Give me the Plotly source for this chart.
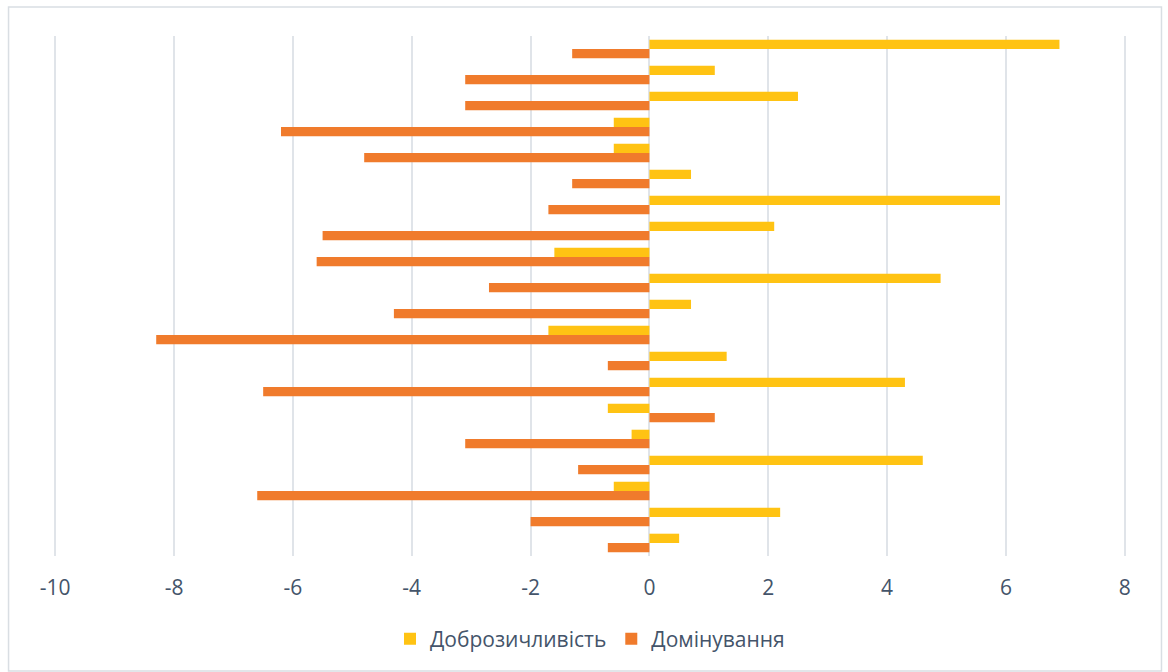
import plotly.graph_objects as go

categories = [str(i) for i in range(1, 21)]
dobro = [6.9, 1.1, 2.5, -0.6, -0.6, 0.7, 5.9, 2.1, -1.6, 4.9,
         0.7, -1.7, 1.3, 4.3, -0.7, -0.3, 4.6, -0.6, 2.2, 0.5]
domin = [-1.3, -3.1, -3.1, -6.2, -4.8, -1.3, -1.7, -5.5, -5.6, -2.7,
         -4.3, -8.3, -0.7, -6.5, 1.1, -3.1, -1.2, -6.6, -2.0, -0.7]
series_names = ["Доброзичливість", "Домінування"]
tick_vals = [-10, -8, -6, -4, -2, 0, 2, 4, 6, 8]
tick_labels = ["-10", "-8", "-6", "-4", "-2", "0", "2", "4", "6", "8"]

TEXT = "#44546A"
GRID = "#E0E4E9"
FONT = "Open Sans, Noto Sans, DejaVu Sans, sans-serif"

fig = go.Figure()
fig.add_trace(go.Bar(y=categories, x=dobro, orientation="h", name=series_names[0],
                     marker=dict(color="#FFC313", line=dict(width=0))))
fig.add_trace(go.Bar(y=categories, x=domin, orientation="h", name=series_names[1],
                     marker=dict(color="#F07B2C", line=dict(width=0))))

fig.update_layout(
    width=1168, height=672,
    margin=dict(l=54, r=42, t=36, b=116),
    paper_bgcolor="white", plot_bgcolor="white",
    barmode="group", bargap=0.285, bargroupgap=0,
    font=dict(family=FONT, color=TEXT, size=21),
    showlegend=True,
    legend=dict(orientation="h", x=0.5, xanchor="center", y=-0.16, yanchor="middle",
                font=dict(size=21, color=TEXT), itemwidth=30, traceorder="normal"),
    xaxis=dict(range=[-10.02, 8.02], tickvals=tick_vals, ticktext=tick_labels,
               showgrid=True, gridcolor=GRID,
               gridwidth=2, zeroline=True, zerolinecolor=GRID, zerolinewidth=2,
               showline=False, ticks="", ticklabelstandoff=17,
               tickfont=dict(size=21, color=TEXT)),
    yaxis=dict(type="category", autorange="reversed", showticklabels=False,
               showgrid=False, zeroline=False, showline=False, ticks=""),
    shapes=[dict(type="rect", xref="paper", yref="paper",
                 x0=-0.0424, x1=1.0331, y0=-0.221, y1=1.0558,
                 line=dict(color="#D9DEE3", width=1.5), layer="below")],
)

fig.write_html("out.html", config={"displayModeBar": False},
               post_script="document.body.style.margin='0';")
